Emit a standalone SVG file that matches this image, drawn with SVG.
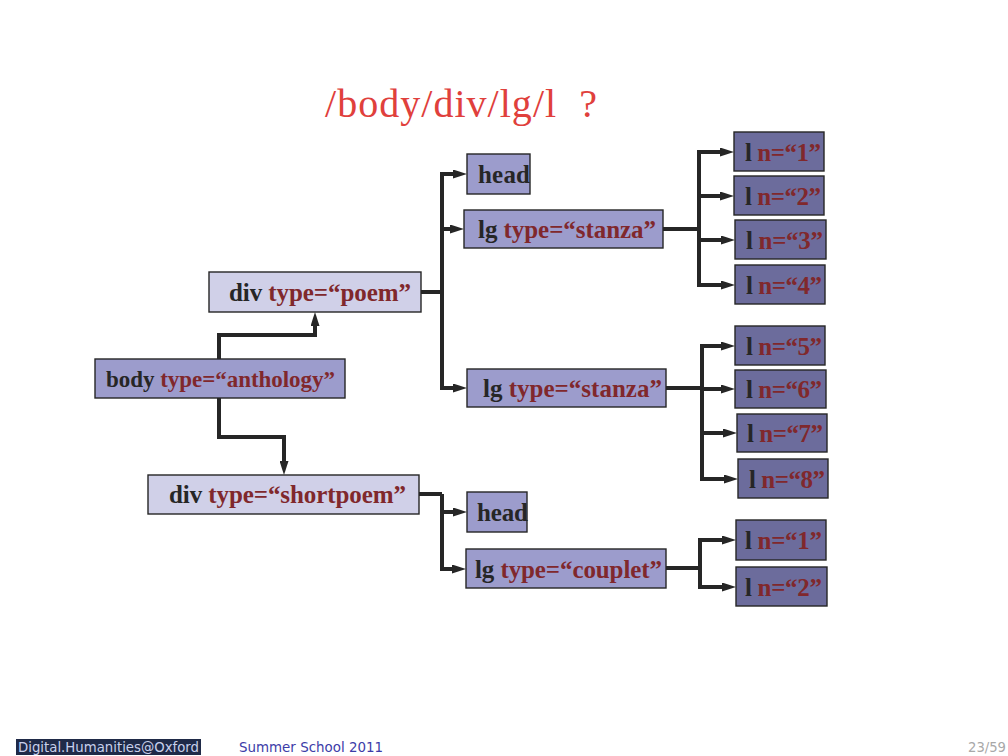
<svg xmlns="http://www.w3.org/2000/svg" width="1008" height="756" viewBox="0 0 1008 756">
<style>
.box{stroke:#262626;stroke-width:1.4}
.div{fill:#D0D0E8}
.mid{fill:#9C9CCC}
.dark{fill:#6C6C9C}
.t{font-family:"Liberation Serif","Times New Roman",serif;font-weight:bold;font-size:25px;fill:#262626}
.s{font-size:23px}
.r{fill:#80282C}
.c{fill:none;stroke:#262626;stroke-width:4;stroke-linejoin:miter}
.ca{marker-end:url(#ah)}
.f{font-family:"DejaVu Sans","Liberation Sans",sans-serif;font-size:14px}
</style>
<defs>
<marker id="ah" viewBox="0 0 14 9" markerWidth="14" markerHeight="9" refX="3" refY="4.5" orient="auto" markerUnits="userSpaceOnUse">
<path d="M0,0 L14,4.5 L0,9 z" fill="#262626"/>
</marker>
</defs>
<rect width="1008" height="756" fill="#ffffff"/>
<text x="325" y="117" font-family="'Liberation Serif','Times New Roman',serif" font-size="40" fill="#E0403C" style="white-space:pre" textLength="272">/body/div/lg/l  ?</text>

<g id="connectors">
<path class="c ca" d="M219,359 V335 H315 V323"/>
<path class="c ca" d="M219,398 V437 H284 V464"/>
<path class="c" d="M421,292 H442"/>
<path class="c ca" d="M442,292 V174 H456"/>
<path class="c ca" d="M442,292 V229 H453"/>
<path class="c ca" d="M442,292 V388 H456"/>
<path class="c" d="M663,229 H699"/>
<path class="c ca" d="M699,229 V152 H723"/>
<path class="c ca" d="M699,229 V196 H723"/>
<path class="c ca" d="M699,229 V240 H724"/>
<path class="c ca" d="M699,229 V285 H724"/>
<path class="c" d="M666,388 H702"/>
<path class="c ca" d="M702,388 V346 H724"/>
<path class="c ca" d="M702,388 V389 H724"/>
<path class="c ca" d="M702,388 V433 H726"/>
<path class="c ca" d="M702,388 V479 H727"/>
<path class="c" d="M419,494 H442"/>
<path class="c ca" d="M442,494 V512 H456"/>
<path class="c ca" d="M442,494 V569 H455"/>
<path class="c" d="M666,568 H700"/>
<path class="c ca" d="M700,568 V540 H725"/>
<path class="c ca" d="M700,568 V587 H725"/>
</g>

<g id="div-poem"><rect class="box div" x="209" y="272" width="212" height="40"/><text class="t" x="229" y="301" textLength="182">div <tspan class="r">type=“poem”</tspan></text></g>
<g id="body"><rect class="box mid" x="95" y="359" width="250" height="39"/><text class="t s" x="106" y="387" textLength="229">body <tspan class="r">type=“anthology”</tspan></text></g>
<g id="div-shortpoem"><rect class="box div" x="148" y="475" width="271" height="39"/><text class="t" x="169" y="503" textLength="237">div <tspan class="r">type=“shortpoem”</tspan></text></g>

<g id="head1"><rect class="box mid" x="467" y="154" width="63" height="40"/><text class="t" x="478" y="183" textLength="52">head</text></g>
<g id="lg-stanza1"><rect class="box mid" x="464" y="210" width="199" height="38"/><text class="t" x="478" y="238" textLength="178">lg <tspan class="r">type=“stanza”</tspan></text></g>
<g id="lg-stanza2"><rect class="box mid" x="467" y="369" width="199" height="38"/><text class="t" x="483" y="397" textLength="179">lg <tspan class="r">type=“stanza”</tspan></text></g>
<g id="head2"><rect class="box mid" x="467" y="492" width="60" height="40"/><text class="t" x="477" y="521" textLength="51">head</text></g>
<g id="lg-couplet"><rect class="box mid" x="466" y="549" width="200" height="39"/><text class="t" x="475" y="578" textLength="187">lg <tspan class="r">type=“couplet”</tspan></text></g>

<g id="l1"><rect class="box dark" x="734" y="132" width="90" height="39"/><text class="t" x="745" y="161" textLength="76">l <tspan class="r">n=“1”</tspan></text></g>
<g id="l2"><rect class="box dark" x="734" y="176" width="90" height="39"/><text class="t" x="745" y="205" textLength="76">l <tspan class="r">n=“2”</tspan></text></g>
<g id="l3"><rect class="box dark" x="735" y="220" width="91" height="39"/><text class="t" x="746" y="249" textLength="77">l <tspan class="r">n=“3”</tspan></text></g>
<g id="l4"><rect class="box dark" x="735" y="265" width="90" height="39"/><text class="t" x="746" y="294" textLength="76">l <tspan class="r">n=“4”</tspan></text></g>
<g id="l5"><rect class="box dark" x="735" y="326" width="90" height="39"/><text class="t" x="746" y="355" textLength="76">l <tspan class="r">n=“5”</tspan></text></g>
<g id="l6"><rect class="box dark" x="735" y="370" width="91" height="38"/><text class="t" x="746" y="398" textLength="76">l <tspan class="r">n=“6”</tspan></text></g>
<g id="l7"><rect class="box dark" x="737" y="414" width="90" height="38"/><text class="t" x="747" y="442" textLength="76">l <tspan class="r">n=“7”</tspan></text></g>
<g id="l8"><rect class="box dark" x="738" y="459" width="90" height="39"/><text class="t" x="749" y="488" textLength="76">l <tspan class="r">n=“8”</tspan></text></g>
<g id="l1b"><rect class="box dark" x="736" y="520" width="90" height="40"/><text class="t" x="745" y="549" textLength="77">l <tspan class="r">n=“1”</tspan></text></g>
<g id="l2b"><rect class="box dark" x="736" y="567" width="91" height="39"/><text class="t" x="745" y="596" textLength="77">l <tspan class="r">n=“2”</tspan></text></g>

<g id="footer">
<rect x="16" y="739" width="185" height="16" fill="#1F2A48"/>
<text class="f" x="18" y="752" fill="#C8D0EC" textLength="181" lengthAdjust="spacingAndGlyphs">Digital.Humanities@Oxford</text>
<text class="f" x="239" y="752" fill="#3C3CA8" textLength="144" lengthAdjust="spacingAndGlyphs">Summer School 2011</text>
<text class="f" x="968" y="752" fill="#A8A8A8" textLength="38" lengthAdjust="spacingAndGlyphs">23/59</text>
</g>
</svg>
